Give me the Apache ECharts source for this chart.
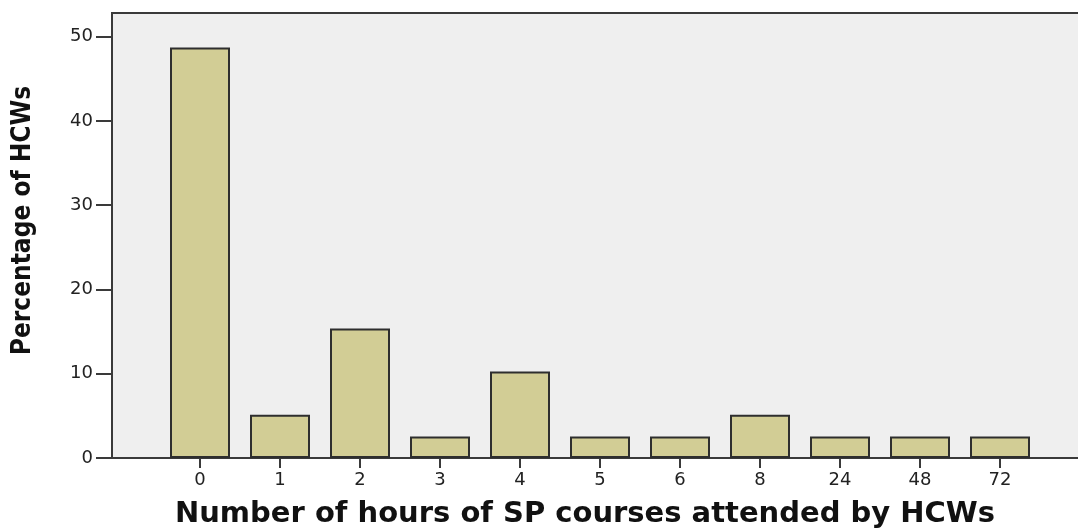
<!DOCTYPE html>
<html>
<head>
<meta charset="utf-8">
<script src="https://cdn.jsdelivr.net/npm/echarts@6/dist/echarts.min.js"></script>
<style>
  html, body { margin: 0; padding: 0; background: #ffffff; }
  #grafiek { width: 1078px; height: 529px; }
</style>
</head>
<body>
<div id="grafiek"></div>
<script>
// uren SP-cursus (categorieen) en percentage HCWs
const uren = ['0', '1', '2', '3', '4', '5', '6', '8', '24', '48', '72'];
const percentage = [48.72, 5.13, 15.38, 2.56, 10.26, 2.56, 2.56, 5.13, 2.56, 2.56, 2.56];
const yTicks = [0, 10, 20, 30, 40, 50];

function toonGrafiek() {
    let grafiek = echarts.init(document.getElementById('grafiek'));
    let posities = uren.map((u, i) => i);
    let option = {
        backgroundColor: '#ffffff',
        animation: false,
        grid: {
            left: 112,
            right: -10,
            top: 13,
            bottom: 71,
            outerBoundsMode: 'none',
            containLabel: false,
            show: true,
            backgroundColor: '#efefef',
            borderColor: '#3a3a3a',
            borderWidth: 2
        },
        xAxis: {
            type: 'value',
            min: -1.1,
            max: 11.1,
            name: 'Number of hours of SP courses attended by HCWs',
            nameLocation: 'middle',
            nameGap: 42,
            nameTextStyle: {
                fontFamily: 'DejaVu Sans',
                fontWeight: 'bold',
                fontSize: 29,
                color: '#111',
                padding: [0, 30, 0, 0]
            },
            splitLine: { show: false },
            axisLine: { show: true, lineStyle: { color: '#3a3a3a', width: 2 } },
            axisTick: {
                show: true,
                customValues: posities,
                length: 10,
                lineStyle: { color: '#3a3a3a', width: 2 }
            },
            axisLabel: {
                customValues: posities,
                formatter: v => uren[Math.round(v)],
                margin: 13,
                fontFamily: 'DejaVu Sans',
                fontSize: 18,
                color: '#222'
            }
        },
        yAxis: {
            type: 'value',
            min: 0,
            max: 52.8,
            name: 'Percentage of HCWs',
            nameLocation: 'middle',
            nameGap: 76,
            nameTextStyle: {
                fontFamily: '"DejaVu Sans Condensed", "Liberation Sans", sans-serif',
                fontWeight: 'bold',
                fontSize: 26,
                color: '#111',
                padding: [0, 0, 0, 30]
            },
            splitLine: { show: false },
            axisLine: { show: true, onZero: false, lineStyle: { color: '#3a3a3a', width: 2 } },
            axisTick: {
                show: true,
                customValues: yTicks,
                length: 16,
                lineStyle: { color: '#3a3a3a', width: 2 }
            },
            axisLabel: {
                customValues: yTicks,
                margin: 19,
                fontFamily: 'DejaVu Sans',
                fontSize: 18,
                color: '#222'
            }
        },
        series: [
            {
                name: 'percentage',
                type: 'bar',
                barWidth: 60,
                data: percentage.map((p, i) => [i, p]),
                itemStyle: {
                    color: '#d2cd95',
                    borderColor: '#2e2e2e',
                    borderWidth: 2
                }
            }
        ]
    };
    grafiek.setOption(option);
}

window.onload = function () {
    if (document.getElementById('grafiek')) {
        toonGrafiek();
    } else {
        console.error("Element #grafiek niet gevonden!");
    }
};
</script>
</body>
</html>
